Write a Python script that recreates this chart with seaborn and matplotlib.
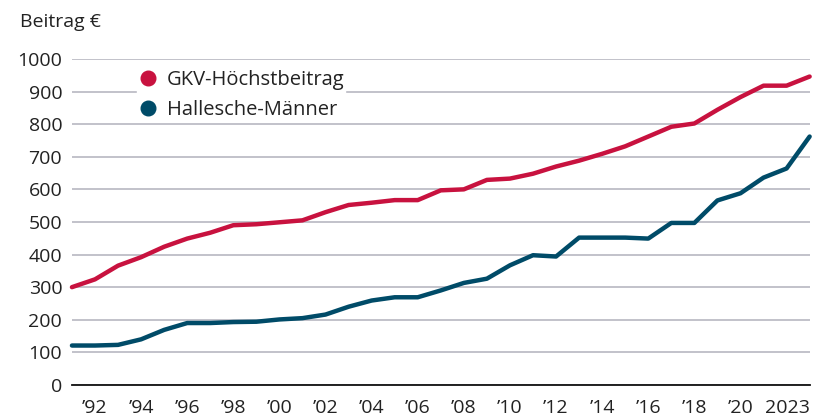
import pandas as pd
import numpy as np
import matplotlib.pyplot as plt
import seaborn as sns
from matplotlib.lines import Line2D

# data (monthly contribution in EUR)
years = list(range(1991, 2024))
gkv = [300, 324, 366, 392, 424, 449, 467, 490, 493, 499, 505, 530, 552, 559, 567, 567,
       597, 600, 629, 633, 648, 670, 688, 709, 732, 762, 792, 802, 844, 883, 918, 918, 946]
hallesche = [121, 121, 123, 140, 169, 190, 190, 193, 194, 201, 205, 216, 240, 259, 269, 269,
             290, 313, 326, 367, 398, 394, 452, 452, 452, 449, 497, 497, 566, 588, 636, 664, 762]
series_names = ["GKV-Höchstbeitrag", "Hallesche-Männer"]
tick_years = [1992, 1994, 1996, 1998, 2000, 2002, 2004, 2006, 2008, 2010,
              2012, 2014, 2016, 2018, 2020, 2023]
tick_labels = ["’92", "’94", "’96", "’98", "’00", "’02", "’04", "’06", "’08", "’10",
               "’12", "’14", "’16", "’18", "’20", "2023"]

df = pd.DataFrame({
    "Jahr": years * 2,
    "Beitrag": gkv + hallesche,
    "Reihe": [series_names[0]] * len(years) + [series_names[1]] * len(years),
})

colors = {series_names[0]: "#c8123f", series_names[1]: "#004b68"}

sns.set_style("white")
plt.rcParams["font.family"] = ["Open Sans", "DejaVu Sans"]

fig = plt.figure(figsize=(8.27, 4.18), dpi=100)
ax = fig.add_axes([0.087, 0.079, 0.892, 0.780])

sns.lineplot(data=df, x="Jahr", y="Beitrag", hue="Reihe", palette=colors,
             linewidth=3.2, legend=False, ax=ax)
for line in ax.lines:
    line.set_solid_capstyle("round")
    line.set_solid_joinstyle("round")
    line.set_clip_on(False)
    line.set_zorder(3)

ax.set_xlim(1991, 2023)
ax.set_ylim(0, 1000)
ax.set_yticks(range(0, 1001, 100))
ax.yaxis.grid(True, color="#b2b2bc", linewidth=1.1)
ax.xaxis.grid(False)
ax.set_axisbelow(True)

ax.set_xticks(tick_years)
ax.set_xticklabels(tick_labels)
ax.get_xticklabels()[-1].set_horizontalalignment("right")
ax.tick_params(axis="both", length=0, labelsize=14, colors="#222222")
ax.tick_params(axis="x", pad=10)
ax.tick_params(axis="y", pad=7)

for side in ["top", "right", "left"]:
    ax.spines[side].set_visible(False)
ax.spines["bottom"].set_color("#111111")
ax.spines["bottom"].set_linewidth(1.3)

ax.set_xlabel("")
ax.set_ylabel("")
fig.text(0.024, 0.947, "Beitrag €", fontsize=14, color="#222222", va="center")

handles = [Line2D([], [], marker="o", linestyle="none", markersize=10.5,
                  color=colors[n]) for n in series_names]
leg = ax.legend(handles, series_names, loc="upper left", bbox_to_anchor=(0.075, 0.999),
                frameon=True, fontsize=14.5, handletextpad=0.4, labelspacing=0.5,
                borderpad=0.05, handlelength=1.0)
leg.get_frame().set_facecolor("white")
leg.get_frame().set_edgecolor("white")
leg.get_frame().set_alpha(1)
leg.get_frame().set_boxstyle("square", pad=0)
for t in leg.get_texts():
    t.set_color("#222222")

fig.savefig("out.png", dpi=100)
